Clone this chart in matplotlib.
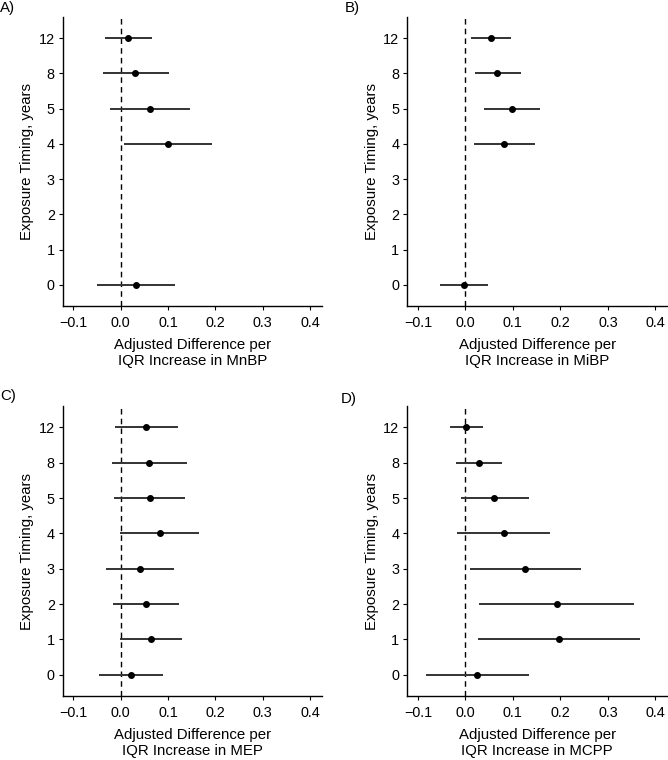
import numpy as np
import matplotlib
matplotlib.use('Agg')
import matplotlib.pyplot as plt

plt.rcParams['font.family'] = ['Liberation Sans', 'DejaVu Sans']

# exposure timing categories (discrete y axis)
timing_labels = ['0', '1', '2', '3', '4', '5', '8', '12']

# A) MnBP
mnbp_timing = ['0', '4', '5', '8', '12']
mnbp_est = [0.032, 0.100, 0.062, 0.031, 0.0155]
mnbp_lo = [-0.051, 0.007, -0.022, -0.038, -0.034]
mnbp_hi = [0.115, 0.193, 0.146, 0.101, 0.0655]

# B) MiBP
mibp_timing = ['0', '4', '5', '8', '12']
mibp_est = [-0.004, 0.081, 0.099, 0.067, 0.053]
mibp_lo = [-0.054, 0.017, 0.040, 0.021, 0.012]
mibp_hi = [0.047, 0.147, 0.157, 0.116, 0.096]

# C) MEP
mep_timing = ['0', '1', '2', '3', '4', '5', '8', '12']
mep_est = [0.022, 0.063, 0.053, 0.040, 0.082, 0.061, 0.060, 0.0535]
mep_lo = [-0.046, -0.001, -0.016, -0.032, -0.001, -0.014, -0.019, -0.013]
mep_hi = [0.090, 0.129, 0.123, 0.113, 0.165, 0.136, 0.139, 0.120]

# D) MCPP
mcpp_timing = ['0', '1', '2', '3', '4', '5', '8', '12']
mcpp_est = [0.025, 0.197, 0.192, 0.126, 0.081, 0.061, 0.028, 0.002]
mcpp_lo = [-0.083, 0.026, 0.028, 0.009, -0.018, -0.010, -0.020, -0.032]
mcpp_hi = [0.134, 0.368, 0.355, 0.244, 0.179, 0.133, 0.077, 0.038]

panels = [
    ('A)', 'MnBP', mnbp_timing, mnbp_est, mnbp_lo, mnbp_hi),
    ('B)', 'MiBP', mibp_timing, mibp_est, mibp_lo, mibp_hi),
    ('C)', 'MEP', mep_timing, mep_est, mep_lo, mep_hi),
    ('D)', 'MCPP', mcpp_timing, mcpp_est, mcpp_lo, mcpp_hi),
]

W, H = 668, 760
fig = plt.figure(figsize=(W / 100, H / 100), dpi=100)

# axes boxes in pixels: left, right, top, bottom
boxes = [
    (62.7, 322, 17, 306),
    (407.3, 667.3, 17, 306),
    (62.7, 322, 406.3, 696.0),
    (407.3, 667.3, 406.3, 696.0),
]
tag_pos = [(0, 8), (345, 8), (0, 396), (341, 399)]

fs = 10.8
line_col = '#333333'
for (tag, chem, timing, est, lo, hi), (l, r, t, b), (tx, ty) in zip(panels, boxes, tag_pos):
    ax = fig.add_axes([l / W, (H - b) / H, (r - l) / W, (b - t) / H])
    ypos = [timing_labels.index(s) for s in timing]

    ax.axvline(0, color='black', linestyle=(0, (4, 3)), linewidth=1.0, zorder=1)
    ax.hlines(ypos, lo, hi, color=line_col, linewidth=1.4, zorder=2)
    ax.plot(est, ypos, 'o', color='black', markersize=4, zorder=3)

    ax.set_xlim(-0.1224, 0.425)
    ax.set_ylim(-0.6, 7.6)
    ax.set_xticks([-0.1, 0.0, 0.1, 0.2, 0.3, 0.4])
    ax.set_xticklabels(['\u22120.1', '0.0', '0.1', '0.2', '0.3', '0.4'])
    ax.set_yticks(range(len(timing_labels)))
    ax.set_yticklabels(timing_labels)

    for side in ['top', 'right']:
        ax.spines[side].set_visible(False)
    for side in ['left', 'bottom']:
        ax.spines[side].set_linewidth(1.0)
    ax.tick_params(axis='both', length=2.7, width=0.8, labelsize=10.4,
                   colors='black')
    ax.tick_params(axis='x', pad=4.5)
    ax.tick_params(axis='y', pad=3)

    ax.set_xlabel('Adjusted Difference per\nIQR Increase in ' + chem,
                  fontsize=fs, labelpad=5.5, linespacing=1.18)
    ax.set_ylabel('Exposure Timing, years', fontsize=fs, labelpad=3)

    fig.text(tx / W, 1 - ty / H, tag, fontsize=fs, ha='left', va='center')

fig.savefig('out.png', dpi=100)
